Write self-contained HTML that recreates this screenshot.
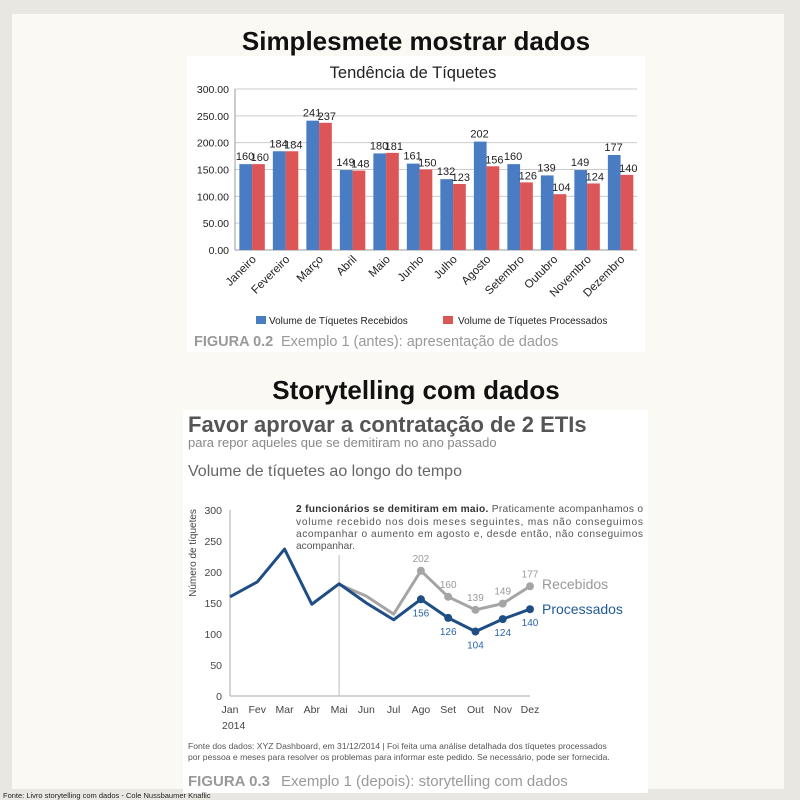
<!DOCTYPE html>
<html><head><meta charset="utf-8"><style>
html,body{margin:0;padding:0;width:800px;height:800px;overflow:hidden;background:#e9e7e2;font-family:"Liberation Sans",sans-serif}
svg text{font-family:"Liberation Sans",sans-serif}
</style></head><body>
<svg id="s" width="800" height="800" xmlns="http://www.w3.org/2000/svg">
<rect x="12" y="14" width="772" height="775" fill="#fbf9f3"/>
<text x="416" y="50" text-anchor="middle" font-size="26" font-weight="bold" fill="#111">Simplesmete mostrar dados</text>
<rect x="187" y="56" width="458" height="296" fill="#fff"/>
<text x="413" y="78" text-anchor="middle" font-size="16.5" fill="#222">Tendência de Tíquetes</text>
<g id="bars"></g>
<rect x="256" y="316" width="10" height="8" fill="#4a7cc4"/>
<text x="269" y="324" font-size="10" fill="#222">Volume de Tíquetes Recebidos</text>
<rect x="443" y="316" width="10" height="8" fill="#dc5557"/>
<text x="458" y="324" font-size="10" fill="#222">Volume de Tíquetes Processados</text>
<text x="194" y="346" font-size="14.5" fill="#999"><tspan font-weight="bold">FIGURA 0.2</tspan><tspan x="281">Exemplo 1 (antes): apresentação de dados</tspan></text>
<text x="416" y="399" text-anchor="middle" font-size="26" font-weight="bold" fill="#111">Storytelling com dados</text>
<rect x="183" y="410" width="465" height="383" fill="#fff"/>
<text x="188" y="432" font-size="22" font-weight="bold" fill="#555">Favor aprovar a contratação de 2 ETIs</text>
<text x="188" y="447" font-size="13" fill="#888">para repor aqueles que se demitiram no ano passado</text>
<text x="188" y="476" font-size="16" fill="#666">Volume de tíquetes ao longo do tempo</text>
<text transform="translate(196,553) rotate(-90)" text-anchor="middle" font-size="10" fill="#444">Número de tíquetes</text>
<g font-size="10.2" fill="#555">
<text x="296" y="512" textLength="347" lengthAdjust="spacing"><tspan font-weight="bold" fill="#333">2 funcionários se demitiram em maio.</tspan> Praticamente acompanhamos o</text>
<text x="296" y="525" textLength="347" lengthAdjust="spacing">volume recebido nos dois meses seguintes, mas não conseguimos</text>
<text x="296" y="537" textLength="347" lengthAdjust="spacing">acompanhar o aumento em agosto e, desde então, não conseguimos</text>
<text x="296" y="549">acompanhar.</text>
</g>
<g id="lines"></g>
<text x="542" y="589" font-size="14" fill="#999">Recebidos</text>
<text x="542" y="614" font-size="14" fill="#1f5a96">Processados</text>
<text x="188" y="749" font-size="8.6" fill="#555">Fonte dos dados: XYZ Dashboard, em 31/12/2014 | Foi feita uma análise detalhada dos tíquetes processados</text>
<text x="188" y="760" font-size="8.6" fill="#555">por pessoa e meses para resolver os problemas para informar este pedido. Se necessário, pode ser fornecida.</text>
<text x="188" y="786" font-size="15" fill="#999"><tspan font-weight="bold">FIGURA 0.3</tspan><tspan x="281">Exemplo 1 (depois): storytelling com dados</tspan></text>
<text x="3" y="798" font-size="7.5" fill="#222">Fonte: Livro storytelling com dados - Cole Nussbaumer Knaflic</text>
</svg>
<script>
const months=["Janeiro","Fevereiro","Março","Abril","Maio","Junho","Julho","Agosto","Setembro","Outubro","Novembro","Dezembro"];
const shortMonths=["Jan","Fev","Mar","Abr","Mai","Jun","Jul","Ago","Set","Out","Nov","Dez"];
const received=[160,184,241,149,180,161,132,202,160,139,149,177];
const processed=[160,184,237,148,181,150,123,156,126,104,124,140];
const barTicks=[0,50,100,150,200,250,300];
const lineTicks=[0,50,100,150,200,250,300];
const NS="http://www.w3.org/2000/svg";
function mk(p,t,a,txt){const e=document.createElementNS(NS,t);for(const k in a)e.setAttribute(k,a[k]);if(txt!==undefined)e.textContent=txt;p.appendChild(e);return e;}
const B=document.getElementById('bars');
const bx0=235,bx1=637,by0=250,by1=89;
const byS=v=>by0-(v/300)*(by0-by1);
const bw=(bx1-bx0)/12;
barTicks.forEach(t=>{
 const l=mk(B,'line',{x1:bx0,x2:bx1,y1:byS(t),y2:byS(t),stroke:t?'#ccc':'#999','stroke-width':1});
 
 const tx=mk(B,'text',{x:bx0-6,y:byS(t)+4,'text-anchor':'end','font-size':10.5,fill:'#222'},t.toFixed(2));
 
});
mk(B,'line',{x1:bx0,x2:bx0,y1:by1,y2:by0,stroke:'#999'});
months.forEach((m,i)=>{
 const cx=bx0+i*bw;
 const r=mk(B,'rect',{x:cx+bw*0.13,y:byS(received[i]),width:bw*0.38,height:by0-byS(received[i]),fill:'#4a7cc4'});
 
 const p=mk(B,'rect',{x:cx+bw*0.51,y:byS(processed[i]),width:bw*0.38,height:by0-byS(processed[i]),fill:'#dc5557'});
 
 const a=mk(B,'text',{x:cx+bw*0.3,y:byS(received[i])-4,'text-anchor':'middle','font-size':11,fill:'#222'},received[i]);
 
 const b=mk(B,'text',{x:cx+bw*0.74,y:byS(processed[i])-3,'text-anchor':'middle','font-size':11,fill:'#222'},processed[i]);
 
 const tl=mk(B,'text',{transform:`translate(${cx+bw*0.65},${by0+10}) rotate(-45)`,'text-anchor':'end','font-size':11.5,fill:'#222'},m);
 
});
const L=document.getElementById('lines');
const lx0=230,lx1=530,ly0=696,ly1=510;
const lx=i=>lx0+i*(lx1-lx0)/11;
const ly=v=>ly0-(v/300)*(ly0-ly1);
mk(L,'line',{x1:lx0,x2:lx0,y1:ly1,y2:ly0,stroke:'#aaa'});
mk(L,'line',{x1:lx0,x2:lx1,y1:ly0,y2:ly0,stroke:'#aaa'});
lineTicks.forEach(t=>{
 const tx=mk(L,'text',{x:lx0-8,y:ly(t)+4,'text-anchor':'end','font-size':10.5,fill:'#444'},t);
 
});
shortMonths.forEach((m,i)=>{
 const tx=mk(L,'text',{x:lx(i),y:713,'text-anchor':'middle','font-size':10.5,fill:'#444'},m);
 
});
const yr=mk(L,'text',{x:lx0-8,y:729,'font-size':10.5,fill:'#444'},'2014');

const vl=mk(L,'line',{x1:lx(4),x2:lx(4),y1:555,y2:ly0,stroke:'#bbb'});

const gp=received.slice(4).map((v,k)=>`${lx(k+4)},${ly(v)}`).join(' ');
const gl=mk(L,'polyline',{points:gp,fill:'none',stroke:'#a5a5a5','stroke-width':3,'stroke-linejoin':'round'});

const bp=processed.map((v,i)=>`${lx(i)},${ly(v)}`).join(' ');
const bl=mk(L,'polyline',{points:bp,fill:'none',stroke:'#1f4e85','stroke-width':3,'stroke-linejoin':'round'});

for(let i=7;i<12;i++){
 const c1=mk(L,'circle',{cx:lx(i),cy:ly(received[i]),r:4,fill:'#a5a5a5'});
 
 const t1=mk(L,'text',{x:lx(i),y:ly(received[i])-9,'text-anchor':'middle','font-size':10,fill:'#999'},received[i]);
 
 const c2=mk(L,'circle',{cx:lx(i),cy:ly(processed[i]),r:4,fill:'#1f4e85'});
 
 const t2=mk(L,'text',{x:lx(i),y:ly(processed[i])+17,'text-anchor':'middle','font-size':10,fill:'#2c64a8'},processed[i]);
 
}
</script>
</body></html>
